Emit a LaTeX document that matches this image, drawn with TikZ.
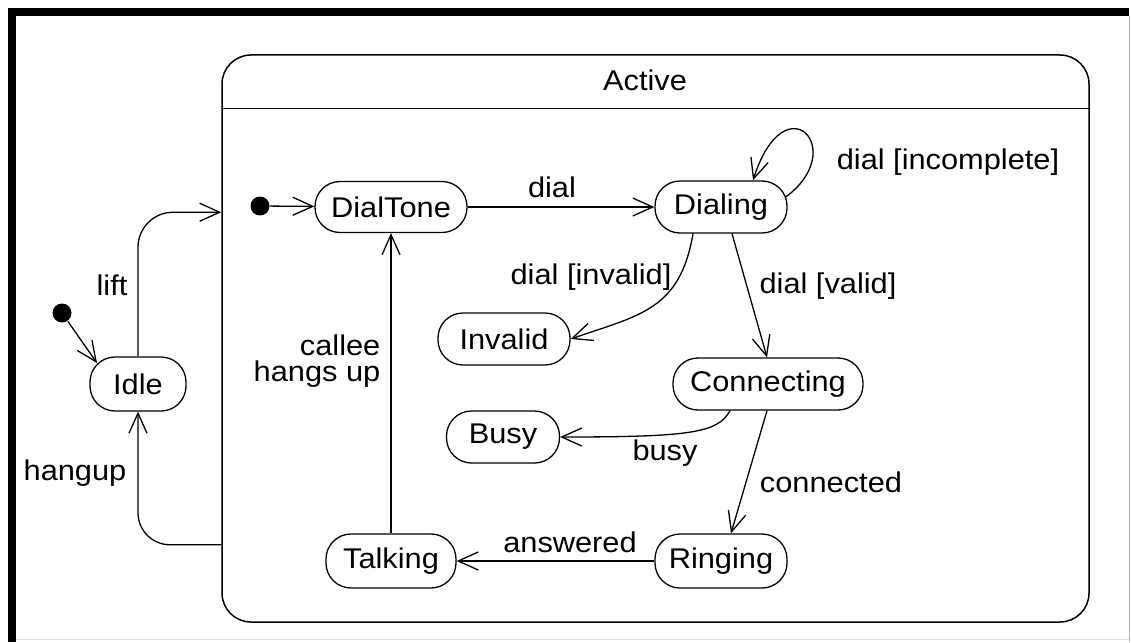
\documentclass[tikz,border=0pt]{standalone}
\usepackage{fontspec}
\setmainfont{Liberation Sans}[FakeStretch=1.08]
\usetikzlibrary{arrows.meta,calc}
\begin{document}
\begin{tikzpicture}[x=1pt,y=-1pt,line width=1.3pt,
  st/.style={draw, rounded corners=25pt, fill=white, inner sep=0pt, minimum height=52pt,
             font=\fontsize{28.5}{32}\selectfont},
  arr/.style={-{Straight Barb[length=20pt,width=18pt,line width=1.3pt]}},
  lab/.style={font=\fontsize{28.5}{26}\selectfont, inner sep=0pt},
  initdot/.style={circle, fill=black, minimum size=19pt, inner sep=0pt}]
\useasboundingbox (0,0) rectangle (1131,642);
\fill[white] (0,0) rectangle (1131,642);
% frame
\fill[black] (8,8) rectangle (16,642);
\fill[black] (8,8) rectangle (1129,16);
\draw[gray!60,line width=1pt] (1129,16) -- (1129,642);
\draw[gray!30,line width=1pt] (16,639) -- (1129,639);
% composite state
\node[draw, rounded corners=29pt, minimum width=867pt, minimum height=567pt, inner sep=0pt, line width=1.5pt] (active) at (655.5,338.5) {};
\node[lab] (activelbl) at (645,80) {Active};
\draw ($(active.north west)+(0,54)$) -- ($(active.north east)+(0,54)$);
% states
\node[initdot] (init1) at (62,313) {};
\node[st, minimum width=96pt, minimum height=54pt] (idle) at (138,384) {Idle};
\node[initdot] (init2) at (260,206) {};
\node[st, minimum width=152pt, minimum height=51pt] (dialtone) at (391,207) {DialTone};
\node[st, minimum width=132pt] (dialing) at (721,207) {Dialing};
\node[st, minimum width=132pt] (invalid) at (504,339) {Invalid};
\node[st, minimum width=190pt] (connecting) at (768,384) {Connecting};
\node[st, minimum width=113pt] (busy) at (503,437) {Busy};
\node[st, minimum width=132pt, minimum height=54pt] (ringing) at (721,561) {Ringing};
\node[st, minimum width=130pt, minimum height=54pt] (talking) at (391,561) {Talking};
% helper coordinates
\coordinate (idlenw) at ($(idle.center)+(-41,-21)$);
\coordinate (liftend) at ($(active.north west)+(0,158)$);
\coordinate (hangstart) at ($(active.south west)+(0,-78)$);
\coordinate (loopstart) at ($(dialing.east)+(-2,-10)$);
\coordinate (loopend) at ($(dialing.north)+(32,0)$);
% transitions
\draw[arr] (init1) -- (idlenw);
\draw[arr, rounded corners=35pt] (idle.north) |- (liftend);
\draw[arr, rounded corners=32pt] (hangstart) -| (idle.south);
\draw[arr] (init2) -- (dialtone);
\draw[arr] (dialtone) -- (dialing);
\draw[arr] (loopstart) .. controls (850,150) and (785,80) .. (loopend);
\draw[arr] ($(dialing.south)+(-28,0)$) .. controls (680,310) and (640,315) .. (invalid.east);
\draw[arr] ($(dialing.south)+(11,0)$) -- ($(connecting.north)+(-1,0)$);
\draw[arr] ($(connecting.south)+(-38,0)$) .. controls (718,433) and (690,437) .. (busy.east);
\draw[arr] ($(connecting.south)+(-1,0)$) -- ($(ringing.north)+(10,0)$);
\draw[arr] (ringing) -- (talking);
\draw[arr] (talking) -- (dialtone);
% labels
\node[lab] (llift) at (112,285) {lift};
\node[lab] (lhangup) at (75,473) {hangup};
\node[lab] (ldial) at (552,187) {dial};
\node[lab] (lincomplete) at (948,162) {dial [incomplete]};
\node[lab] (linvalid) at (591,277) {dial [invalid]};
\node[lab] (lvalid) at (828,286) {dial [valid]};
\node[lab] (lbusy) at (665,453) {busy};
\node[lab] (lconnected) at (831,482) {connected};
\node[lab] (lanswered) at (570,542) {answered};
\node[lab, align=right, anchor=east] (lcallee) at (381,361) {callee\\hangs up};
\end{tikzpicture}
\end{document}
